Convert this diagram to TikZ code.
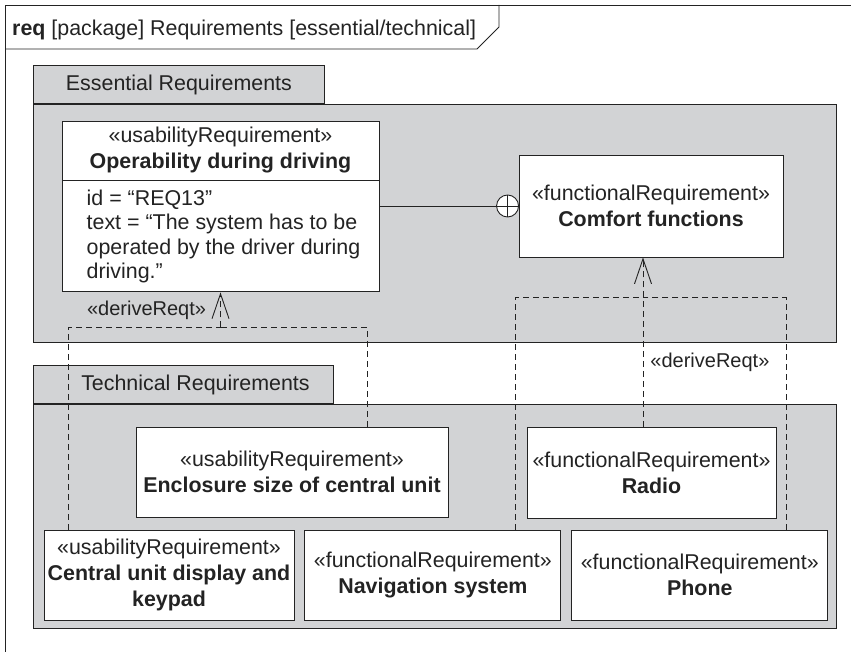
\documentclass[tikz,border=0pt]{standalone}
\usepackage{fontspec}
\setmainfont{Liberation Sans}
\usetikzlibrary{arrows.meta,positioning}

\definecolor{pkggray}{RGB}{210,211,213}
\definecolor{ink}{RGB}{35,35,35}
\newcommand{\reqfont}{\fontsize{21.4}{26}\selectfont}
\newcommand{\attrfont}{\fontsize{21.4}{24.5}\selectfont}

\begin{document}
\begin{tikzpicture}[x=1pt,y=-1pt,font=\reqfont,text=ink,
    line/.style={draw=ink, line width=0.9pt},
    dline/.style={draw=ink, line width=0.9pt, dash pattern=on 6pt off 4pt},
    derive/.style={dline, -{Straight Barb[length=25pt,width=17pt]}},
    req/.style={draw=ink, fill=white, line width=0.9pt, align=center, inner sep=0pt},
    pkgbody/.style={draw=ink, fill=pkggray, line width=0.9pt, anchor=north west},
    pkgtab/.style={draw=ink, fill=pkggray, line width=0.9pt, anchor=south west, minimum height=38pt, inner sep=0pt},
    dlabel/.style={inner sep=0pt, font=\fontsize{20}{24}\selectfont},
    ]
    \useasboundingbox (0,0) rectangle (851,652);

    % Frame
    \path [line] (851,5) -- (5,5) -- (5,652);
    \path [line] (5,49) -- (477,49) -- (499,27) -- (499,5);
    \node [anchor=base west, inner sep=0pt] (title) at (12,36) {\textbf{req} [package] Requirements [essential/technical]};

    % Packages
    \node [pkgbody, minimum width=803pt, minimum height=238pt] (essbody) at (33,104) {};
    \node [pkgtab, minimum width=291pt] (esstab) at (essbody.north west) {Essential Requirements};
    \node [pkgbody, minimum width=803pt, minimum height=224pt] (techbody) at (33,404) {};
    \node [pkgtab, minimum width=300pt] (techtab) at (techbody.north west) {\hspace*{24pt}Technical Requirements};

    % Place nodes
    \node [req, minimum width=317pt, minimum height=59pt] (oper) at (220.5,150.5) {«usabilityRequirement»\\\textbf{Operability during driving}};
    \node [req, minimum width=317pt, minimum height=111pt, below=0pt of oper, align=left, font=\attrfont] (operattr) {\hspace*{6pt}id = “REQ13”\\\hspace*{6pt}text = “The system has to be\\\hspace*{6pt}operated by the driver during\\\hspace*{6pt}driving.”};
    \node [req, minimum width=264pt, minimum height=102pt] (comfort) at (651,206) {«functionalRequirement»\\\textbf{Comfort functions}};
    \node [circle, draw=ink, fill=white, line width=0.9pt, minimum size=22pt, inner sep=0pt] (cplus) at ([xshift=-11pt]comfort.west) {};

    \node [req, minimum width=312pt, minimum height=90pt] (encl) at (292,472) {«usabilityRequirement»\\\textbf{Enclosure size of central unit}};
    \node [req, minimum width=249pt, minimum height=91pt] (radio) at (651.5,472.5) {«functionalRequirement»\\\textbf{Radio}};
    \node [req, minimum width=250pt, minimum height=90pt] (central) at (169,575) {«usabilityRequirement»\\\textbf{Central unit display and}\\\textbf{keypad}};
    \node [req, minimum width=256pt, minimum height=90pt, right=10pt of central] (nav) {«functionalRequirement»\\\textbf{Navigation system}};
    \node [req, minimum width=256pt, minimum height=90pt, right=10pt of nav] (phone) {«functionalRequirement»\\\textbf{Phone}};

    % Draw edges
    \path [line] (cplus.north) -- (cplus.south) (cplus.west) -- (cplus.east);
    \path [line] (operattr.east |- cplus) -- (cplus.west);

    \coordinate (opjoin) at ([yshift=-35pt]operattr.south);
    \path [dline] ([xshift=25pt]central.north west) |- (opjoin);
    \path [dline] ([xshift=-81pt]encl.north east) |- (opjoin);
    \path [derive] (opjoin) -- node [dlabel, left=14pt] {«deriveReqt»} (operattr.south);

    \coordinate (cfjoin) at ([xshift=-8pt,yshift=-40pt]comfort.south);
    \path [dline] ([xshift=-46pt]nav.north east) |- (cfjoin);
    \path [dline] ([xshift=-42pt]phone.north east) |- (cfjoin);
    \path [dline] (radio.north -| cfjoin) -- node [dlabel, right=7pt] {«deriveReqt»} (cfjoin);
    \path [derive] (cfjoin) -- (comfort.south -| cfjoin);
\end{tikzpicture}
\end{document}
